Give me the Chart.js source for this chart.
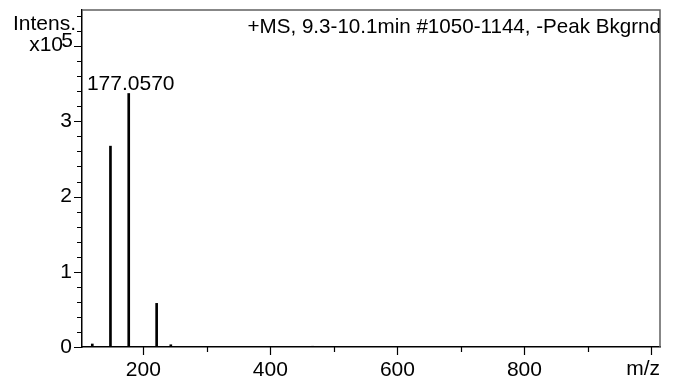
<!DOCTYPE html>
<html>
<head>
<meta charset="utf-8">
<script src="https://cdn.jsdelivr.net/npm/chart.js@4.4.0/dist/chart.umd.min.js"></script>
<style>
  html, body { margin: 0; padding: 0; background: #fff; }
  #wrap { width: 676px; height: 379px; }
</style>
</head>
<body>
<div id="wrap"><canvas id="ms"></canvas></div>
<script>
// 质谱峰 (m/z 与强度)
const mzValues = [119.7, 148.3, 177.057, 221.0, 243.3, 466.5];
const intensities = [4000, 267000, 337000, 58000, 3000, 1000];

// 标注与刻度
const peakLabel = '177.0570';
const titleText = '+MS, 9.3-10.1min #1050-1144, -Peak Bkgrnd';
const xTickValues = [200, 300, 400, 500, 600, 700, 800, 900, 1000];
const xLabeledTicks = [200, 400, 600, 800];
const yTickValues = [0, 20000, 40000, 60000, 80000, 100000, 120000, 140000, 160000, 180000,
    200000, 220000, 240000, 260000, 280000, 300000, 320000, 340000, 360000, 380000,
    400000, 420000, 440000];
const yLabeledTicks = [0, 100000, 200000, 300000];

const FONT = 'Arial, "Liberation Sans", sans-serif';
const FONT_SIZE = 21;

// 自定义装饰: 刻度线、边框、文字
const msDecor = {
    id: 'msDecor',
    afterDraw(chart) {
        const ctx = chart.ctx;
        const area = chart.chartArea;
        const xs = chart.scales.x;
        const ys = chart.scales.y;

        ctx.save();
        // 顶部与右侧边框
        ctx.strokeStyle = '#606060';
        ctx.lineWidth = 1.5;
        ctx.beginPath();
        ctx.moveTo(area.left, area.top);
        ctx.lineTo(area.right, area.top);
        ctx.lineTo(area.right, area.bottom);
        ctx.stroke();

        // 刻度线
        ctx.strokeStyle = '#000';
        ctx.lineWidth = 1.2;
        ctx.beginPath();
        ys.ticks.forEach(t => {
            const py = Math.round(ys.getPixelForValue(t.value)) + 0.5;
            const len = (t.value % 100000 === 0) ? 8 : 5;
            ctx.moveTo(area.left, py);
            ctx.lineTo(area.left - len, py);
        });
        xs.ticks.forEach(t => {
            const px = Math.round(xs.getPixelForValue(t.value)) + 0.5;
            const len = (t.value % 200 === 0) ? 8 : 5;
            ctx.moveTo(px, area.bottom);
            ctx.lineTo(px, area.bottom + len);
        });
        ctx.stroke();

        // 文字
        ctx.fillStyle = '#000';
        ctx.font = FONT_SIZE + 'px ' + FONT;
        ctx.textBaseline = 'alphabetic';

        ctx.textAlign = 'right';
        ctx.fillText('Intens.', 76, 30);
        ctx.fillText('5', 73, 47);
        ctx.fillText('x10', 63, 51);
        ctx.fillText('m/z', 660, 375);
        ctx.font = '20.6px ' + FONT;
        ctx.fillText(titleText, 661, 33);

        // 最高峰标注
        ctx.font = FONT_SIZE + 'px ' + FONT;
        let top = 0;
        intensities.forEach((v, i) => { if (v > intensities[top]) top = i; });
        const lx = xs.getPixelForValue(mzValues[top]);
        const ly = ys.getPixelForValue(intensities[top]);
        ctx.textAlign = 'center';
        ctx.fillText(peakLabel, lx + 2, ly - 3);
        ctx.restore();
    }
};

const ctx = document.getElementById('ms').getContext('2d');
new Chart(ctx, {
    type: 'bar',
    data: {
        datasets: [{
            data: mzValues.map((mz, i) => ({ x: mz, y: intensities[i] })),
            backgroundColor: '#000',
            borderWidth: 0,
            barThickness: 2,
            grouped: false
        }]
    },
    options: {
        responsive: true,
        maintainAspectRatio: false,
        animation: false,
        layout: { padding: { top: 10, right: 16, left: 0, bottom: 0 } },
        plugins: {
            legend: { display: false },
            tooltip: { enabled: false }
        },
        scales: {
            x: {
                type: 'linear',
                offset: false,
                min: 103.5,
                max: 1013.4,
                grid: { display: false, drawTicks: false, offset: false },
                border: { display: true, color: '#000', width: 1.5 },
                afterBuildTicks: scale => {
                    scale.ticks = xTickValues.map(v => ({ value: v }));
                },
                ticks: {
                    autoSkip: false,
                    maxRotation: 0,
                    padding: 11,
                    color: '#000',
                    font: { family: FONT, size: FONT_SIZE },
                    callback: v => xLabeledTicks.includes(v) ? String(v) : ''
                },
                afterFit: scale => {
                    scale.height = 32;
                    scale.paddingLeft = 0;
                    scale.paddingRight = 0;
                }
            },
            y: {
                type: 'linear',
                min: 0,
                max: 448000,
                grid: { display: false, drawTicks: false },
                border: { display: true, color: '#000', width: 1.5 },
                afterBuildTicks: scale => {
                    scale.ticks = yTickValues.map(v => ({ value: v }));
                },
                ticks: {
                    autoSkip: false,
                    padding: 10,
                    color: '#000',
                    font: { family: FONT, size: FONT_SIZE },
                    callback: v => yLabeledTicks.includes(v) ? String(v / 100000) : ''
                },
                afterFit: scale => {
                    scale.width = 82;
                    scale.paddingTop = 0;
                    scale.paddingBottom = 0;
                }
            }
        }
    },
    plugins: [msDecor]
});
</script>
</body>
</html>
